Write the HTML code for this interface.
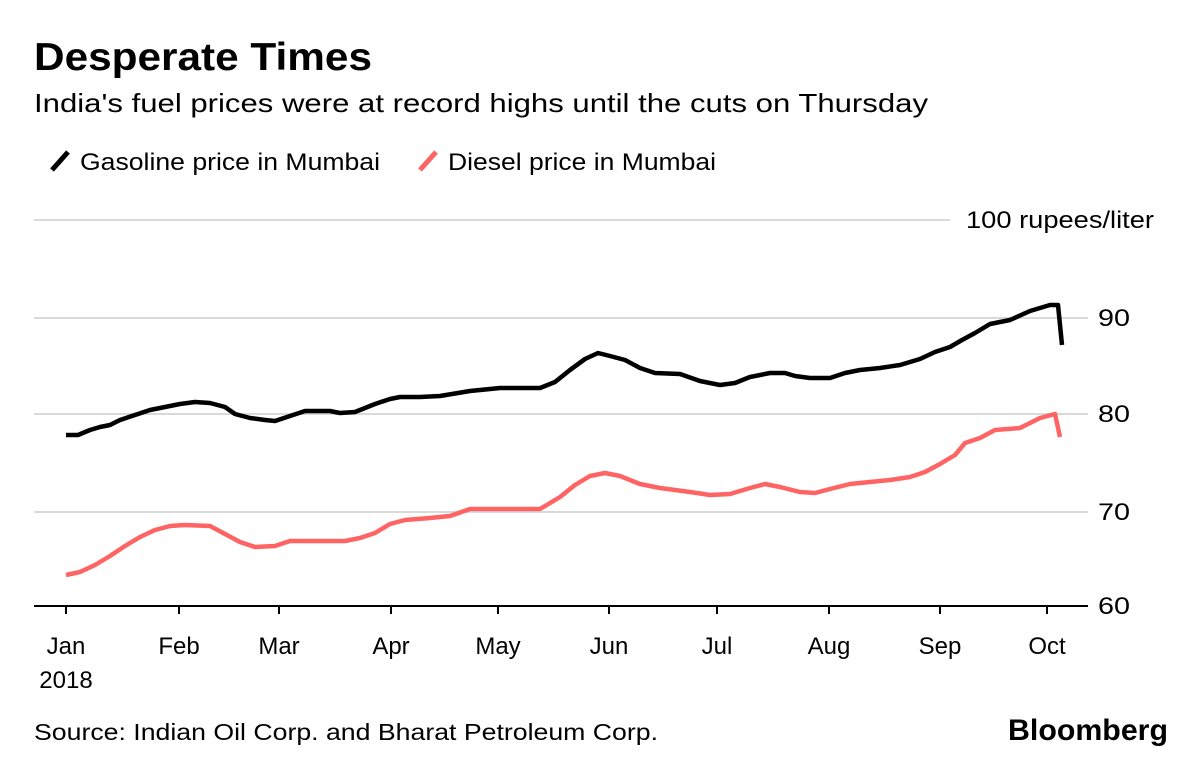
<!DOCTYPE html>
<html><head><meta charset="utf-8"><style>
html,body{margin:0;padding:0;background:#fff;width:1200px;height:762px;overflow:hidden}
svg text{font-family:"Liberation Sans",sans-serif}
</style></head><body>
<svg width="1200" height="762" xmlns="http://www.w3.org/2000/svg">
<text x="34" y="70" font-size="39" font-weight="bold" fill="#000" textLength="338" lengthAdjust="spacingAndGlyphs">Desperate Times</text>
<text x="34" y="112" font-size="26" fill="#000" textLength="894" lengthAdjust="spacingAndGlyphs">India's fuel prices were at record highs until the cuts on Thursday</text>
<line x1="52" y1="170" x2="68" y2="152" stroke="#000" stroke-width="5"/>
<text x="80" y="170" font-size="24" textLength="300" lengthAdjust="spacingAndGlyphs">Gasoline price in Mumbai</text>
<line x1="420" y1="170" x2="436" y2="152" stroke="#ff6464" stroke-width="5"/>
<text x="448" y="170" font-size="24" textLength="268" lengthAdjust="spacingAndGlyphs">Diesel price in Mumbai</text>
<g stroke="#d9d9d9" stroke-width="2">
<line x1="34" y1="220" x2="950" y2="220"/>
<line x1="34" y1="318" x2="1088" y2="318"/>
<line x1="34" y1="414" x2="1088" y2="414"/>
<line x1="34" y1="512" x2="1088" y2="512"/>
</g>
<line x1="34" y1="606" x2="1088" y2="606" stroke="#000" stroke-width="2"/>
<g font-size="24" fill="#000">
<text x="966" y="228" textLength="188" lengthAdjust="spacingAndGlyphs">100 rupees/liter</text>
<text x="1098" y="326" textLength="32" lengthAdjust="spacingAndGlyphs">90</text>
<text x="1098" y="422" textLength="32" lengthAdjust="spacingAndGlyphs">80</text>
<text x="1098" y="520" textLength="32" lengthAdjust="spacingAndGlyphs">70</text>
<text x="1098" y="614" textLength="32" lengthAdjust="spacingAndGlyphs">60</text>
</g>
<g stroke="#000" stroke-width="2">
<line x1="66" y1="606" x2="66" y2="614"/><line x1="179" y1="606" x2="179" y2="614"/>
<line x1="279" y1="606" x2="279" y2="614"/><line x1="391" y1="606" x2="391" y2="614"/>
<line x1="498" y1="606" x2="498" y2="614"/><line x1="609" y1="606" x2="609" y2="614"/>
<line x1="717" y1="606" x2="717" y2="614"/><line x1="829" y1="606" x2="829" y2="614"/>
<line x1="940" y1="606" x2="940" y2="614"/><line x1="1047" y1="606" x2="1047" y2="614"/>
</g>
<g font-size="24" text-anchor="middle">
<text x="66" y="654">Jan</text><text x="66" y="688">2018</text>
<text x="179" y="654">Feb</text><text x="279" y="654">Mar</text><text x="391" y="654">Apr</text>
<text x="498" y="654">May</text><text x="609" y="654">Jun</text><text x="717" y="654">Jul</text>
<text x="829" y="654">Aug</text><text x="940" y="654">Sep</text><text x="1047" y="654">Oct</text>
</g>
<polyline fill="none" stroke="#ff6464" stroke-width="4.5" stroke-linejoin="round" points="66,575 80,572 95,565 110,556 125,546 140,537 155,530 170,526 185,525 210,526 225,534 240,542 255,547 275,546 290,541 330,541 345,541 360,538 375,533 390,524 405,520 430,518 450,516 470,509 500,509 540,509 560,497 575,485 590,476 605,473 620,476 640,484 660,488 690,492 710,495 730,494 750,488 765,484 780,487 800,492 815,493 830,489 850,484 870,482 890,480 910,477 925,472 940,464 955,455 965,443 980,438 995,430 1020,428 1040,418 1055,414 1060,437"/>
<polyline fill="none" stroke="#000" stroke-width="4.5" stroke-linejoin="round" points="66,435 78,435 90,430 100,427 110,425 120,420 135,415 150,410 165,407 180,404 195,402 210,403 225,407 235,414 250,418 265,420 275,421 290,416 305,411 330,411 340,413 355,412 365,408 375,404 390,399 400,397 420,397 440,396 470,391 500,388 540,388 555,382 570,370 585,359 598,353 610,356 625,360 640,368 655,373 680,374 700,381 720,385 735,383 750,377 770,373 785,373 795,376 810,378 830,378 845,373 860,370 880,368 900,365 920,359 935,352 950,347 962,340 975,333 990,324 1010,320 1030,311 1050,305 1058,305 1062,345"/>
<text x="34" y="740" font-size="23" textLength="624" lengthAdjust="spacingAndGlyphs">Source: Indian Oil Corp. and Bharat Petroleum Corp.</text>
<text x="1008" y="740" font-size="30" font-weight="bold" textLength="160" lengthAdjust="spacingAndGlyphs">Bloomberg</text>
</svg>
</body></html>
